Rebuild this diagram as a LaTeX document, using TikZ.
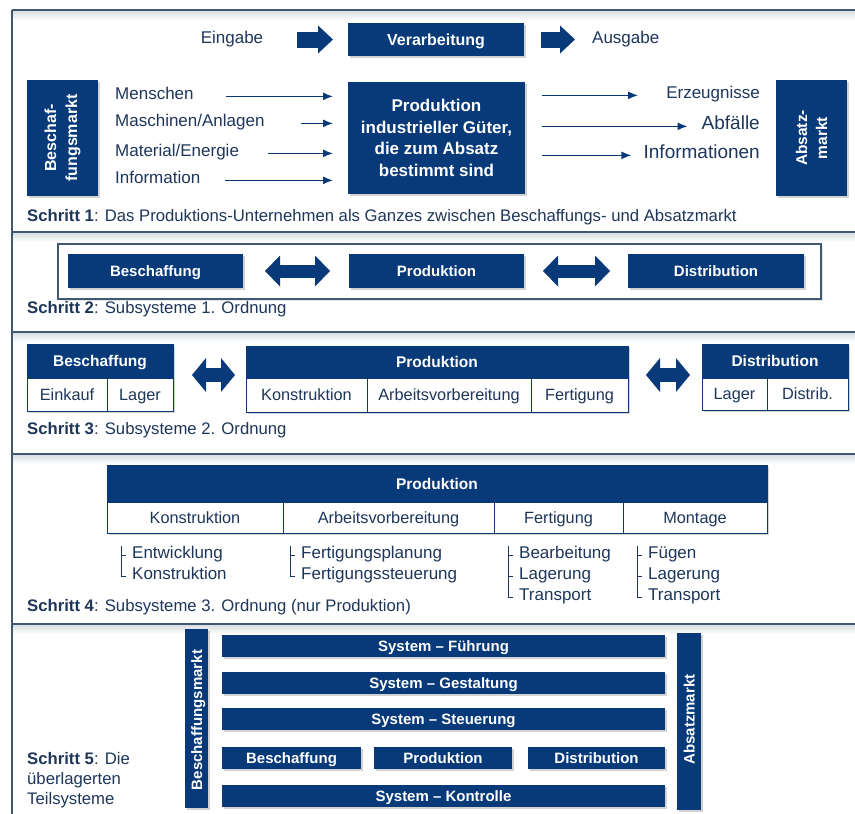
\documentclass[tikz,border=0pt]{standalone}
\usepackage{fontspec}
\setmainfont{Liberation Sans}
\usetikzlibrary{positioning,chains,arrows.meta,shadows}

\definecolor{navy}{RGB}{8,58,122}
\definecolor{inkblue}{RGB}{30,54,90}
\definecolor{rulegray}{RGB}{64,88,114}

\tikzset{
    labeltext/.style = {
        text = inkblue,
        inner sep = 0pt,
        font = \fontsize{17}{21}\selectfont,
        },
    captiontext/.style = {
        labeltext,
        anchor = base west,
        font = \fontsize{16.7}{20}\selectfont,
        },
    navybox/.style = {
        fill = navy,
        text = white,
        inner sep = 0pt,
        outer sep = 0pt,
        font = \bfseries\fontsize{16}{21.5}\selectfont,
        drop shadow = {shadow xshift=2pt, shadow yshift=-2pt, opacity=0.35},
        },
    oneline/.style = {
        text height = 11pt,
        text depth = 0pt,
        },
    headcell/.style = {
        navybox,
        oneline,
        draw = navy,
        anchor = north west,
        font = \bfseries\fontsize{15.5}{18}\selectfont,
        },
    tablecell/.style = {
        draw = navy,
        line width = 0.8pt,
        fill = white,
        text = inkblue,
        inner sep = 0pt,
        outer sep = 0pt,
        oneline,
        text height = 11.7pt,
        font = \fontsize{16.3}{20}\selectfont,
        drop shadow = {shadow xshift=2pt, shadow yshift=-2pt, opacity=0.35},
        on chain,
        },
    systembar/.style = {
        navybox,
        oneline,
        minimum height = 22pt,
        anchor = north west,
        font = \bfseries\fontsize{15}{18}\selectfont,
        },
    fat arrow/.style = {
        navy,
        line width = 16pt,
        -{Triangle[length=15pt,width=28pt,line width=0pt]},
        },
    twin arrow/.style = {
        navy,
        line width = 13pt,
        {Triangle[length=15pt,width=31pt,line width=0pt]}-{Triangle[length=15pt,width=31pt,line width=0pt]},
        },
    flow arrow/.style = {
        navy,
        line width = 1.4pt,
        -{Latex[length=10pt,width=8pt]},
        },
    list line/.style = {
        draw = inkblue,
        line width = 0.8pt,
        },
    frame line/.style = {
        draw = rulegray,
        line width = 1.6pt,
        },
}

\begin{document}
\begin{tikzpicture}[x=1pt, y=-1pt]
    \useasboundingbox (0,0) rectangle (855,814);
    \fill[white] (0,0) rectangle (855,814);

    % faint bands under the section lines
    \foreach \y in {10,232,332,454,624} {
        \shade[top color=rulegray!22, bottom color=white] (12,\y) rectangle (855,\y+10);
    }

    % --- Schritt 1
    \node[labeltext, anchor=base] (eingabe) at (232,43) {Eingabe};
    \node[navybox, oneline, minimum width=176pt, minimum height=33pt] (verarb) at (436,39.5) {Verarbeitung};
    \node[labeltext, anchor=base west] (ausgabe) at (592,43) {Ausgabe};
    \draw[fat arrow, shorten <=34pt, shorten >=15pt] (verarb.west -| eingabe.east) -- (verarb.west);
    \draw[fat arrow, shorten <=17pt, shorten >=17pt] (verarb.east) -- (verarb.east -| ausgabe.west);

    \node[navybox, minimum width=71pt, minimum height=116pt] (bmarkt) at (62.5,138) {};
    \node[rotate=90, text=white, align=center, font=\bfseries\fontsize{16}{21}\selectfont] at (bmarkt.center) {Beschaf-\\fungsmarkt};
    \node[navybox, minimum width=71pt, minimum height=116pt] (amarkt) at (811.5,138) {};
    \node[rotate=90, text=white, align=center, font=\bfseries\fontsize{15.5}{20}\selectfont] at (amarkt.center) {Absatz-\\markt};

    \node[navybox, minimum width=177pt, minimum height=112pt, align=center,
          font=\bfseries\fontsize{17}{21.7}\selectfont] (prod) at (436.5,138)
          {Produktion\\industrieller Güter,\\die zum Absatz\\bestimmt sind};

    \node[labeltext, anchor=base west] (menschen) at (115,99) {Menschen};
    \node[labeltext, anchor=base west] (maschinen) at (115,126) {Maschinen/Anlagen};
    \node[labeltext, anchor=base west] (material) at (115,156) {Material/Energie};
    \node[labeltext, anchor=base west] (information) at (115,183) {Information};
    \draw[flow arrow, shorten <=32pt, shorten >=15pt] (menschen.mid east) -- (menschen.mid east -| prod.west);
    \draw[flow arrow, shorten <=36pt, shorten >=15pt] (maschinen.mid east) -- (maschinen.mid east -| prod.west);
    \draw[flow arrow, shorten <=29pt, shorten >=15pt] (material.mid east) -- (material.mid east -| prod.west);
    \draw[flow arrow, shorten <=25pt, shorten >=15pt] (information.mid east) -- (information.mid east -| prod.west);

    \node[labeltext, anchor=base east] (erzeugnisse) at (760,98) {Erzeugnisse};
    \node[labeltext, anchor=base east, font=\fontsize{19}{22}\selectfont] (abfaelle) at (760,129) {Abfälle};
    \node[labeltext, anchor=base east, font=\fontsize{19}{22}\selectfont] (informationen) at (760,158) {Informationen};
    \draw[flow arrow, shorten <=17pt, shorten >=28pt] (erzeugnisse.mid west -| prod.east) -- (erzeugnisse.mid west);
    \draw[flow arrow, shorten <=17pt, shorten >=14pt] (abfaelle.mid west -| prod.east) -- (abfaelle.mid west);
    \draw[flow arrow, shorten <=17pt, shorten >=12pt] (informationen.mid west -| prod.east) -- (informationen.mid west);

    \node[captiontext] (schritt1) at (27,221) {\textbf{Schritt 1}: Das Produktions-Unternehmen als Ganzes zwischen Beschaffungs- und Absatzmarkt};

    % --- Schritt 2
    \node[draw=rulegray, line width=1.2pt, fill=white, minimum width=763pt, minimum height=55pt,
          drop shadow={shadow xshift=2pt, shadow yshift=-2pt, opacity=0.2}] (rahmen2) at (439.5,271.5) {};
    \node[navybox, oneline, minimum width=175pt, minimum height=34pt, font=\bfseries\fontsize{15}{18}\selectfont] (beschaffung2) at (155.5,271) {Beschaffung};
    \node[navybox, oneline, minimum width=175pt, minimum height=34pt, font=\bfseries\fontsize{15}{18}\selectfont] (produktion2) at (436.5,271) {Produktion};
    \node[navybox, oneline, minimum width=176pt, minimum height=34pt, font=\bfseries\fontsize{15}{18}\selectfont] (distribution2) at (716,271) {Distribution};
    \draw[twin arrow, shorten <=22pt, shorten >=19pt] (beschaffung2) -- (produktion2);
    \draw[twin arrow, shorten <=19pt, shorten >=18pt] (produktion2) -- (distribution2);

    \node[captiontext] (schritt2) at (27,313) {\textbf{Schritt 2}: Subsysteme 1. Ordnung};

    % --- Schritt 3
    \node[headcell, minimum width=146pt, minimum height=34pt] (beschaffung3) at (27,344) {Beschaffung};
    \begin{scope}[start chain=going right, node distance=0pt]
        \node[tablecell, minimum width=80pt, minimum height=33pt, anchor=north west] (einkauf3) at (beschaffung3.south west) {Einkauf};
        \node[tablecell, minimum width=66pt, minimum height=33pt] (lager3) {Lager};
    \end{scope}

    \node[headcell, minimum width=382pt, minimum height=32pt] (produktion3) at (246,346) {Produktion};
    \begin{scope}[start chain=going right, node distance=0pt]
        \node[tablecell, minimum width=121pt, minimum height=34pt, anchor=north west] (konstruktion3) at (produktion3.south west) {Konstruktion};
        \node[tablecell, minimum width=164pt, minimum height=34pt] (arbeitsvorb3) {Arbeitsvorbereitung};
        \node[tablecell, minimum width=97pt, minimum height=34pt] (fertigung3) {Fertigung};
    \end{scope}

    \node[headcell, minimum width=146pt, minimum height=34pt] (distribution3) at (702,344) {Distribution};
    \begin{scope}[start chain=going right, node distance=0pt]
        \node[tablecell, minimum width=65pt, minimum height=32pt, anchor=north west] (lagerd3) at (distribution3.south west) {Lager};
        \node[tablecell, minimum width=81pt, minimum height=32pt] (distrib3) {Distrib.};
    \end{scope}

    \draw[twin arrow, line width=14pt, {Triangle[length=14pt,width=34pt,line width=0pt]}-{Triangle[length=14pt,width=34pt,line width=0pt]},
          shorten <=19pt, shorten >=11pt] ([yshift=3pt]beschaffung3.south east) -- ([yshift=3pt]beschaffung3.south east -| produktion3.west);
    \draw[twin arrow, line width=14pt, {Triangle[length=14pt,width=34pt,line width=0pt]}-{Triangle[length=14pt,width=34pt,line width=0pt]},
          shorten <=18pt, shorten >=12pt] ([yshift=3pt]produktion3.south east) -- ([yshift=3pt]produktion3.south east -| distribution3.west);

    \node[captiontext] (schritt3) at (27,434) {\textbf{Schritt 3}: Subsysteme 2. Ordnung};

    % --- Schritt 4
    \node[headcell, minimum width=660pt, minimum height=37pt] (produktion4) at (107,465) {Produktion};
    \begin{scope}[start chain=going right, node distance=0pt]
        \node[tablecell, minimum width=176pt, minimum height=31pt, anchor=north west] (konstruktion4) at (produktion4.south west) {Konstruktion};
        \node[tablecell, minimum width=211pt, minimum height=31pt] (arbeitsvorb4) {Arbeitsvorbereitung};
        \node[tablecell, minimum width=129pt, minimum height=31pt] (fertigung4) {Fertigung};
        \node[tablecell, minimum width=144pt, minimum height=31pt] (montage4) {Montage};
    \end{scope}

    \node[labeltext, anchor=base west] (entwicklung) at (132,558) {Entwicklung};
    \node[labeltext, anchor=base west] (konstruktion) at (132,579) {Konstruktion};
    \node[labeltext, anchor=base west] (fplanung) at (301,558) {Fertigungsplanung};
    \node[labeltext, anchor=base west] (fsteuerung) at (301,579) {Fertigungssteuerung};
    \node[labeltext, anchor=base west] (bearbeitung) at (519,558) {Bearbeitung};
    \node[labeltext, anchor=base west] (lagerungf) at (519,579) {Lagerung};
    \node[labeltext, anchor=base west] (transportf) at (519,600) {Transport};
    \node[labeltext, anchor=base west] (fuegen) at (648,558) {Fügen};
    \node[labeltext, anchor=base west] (lagerungm) at (648,579) {Lagerung};
    \node[labeltext, anchor=base west] (transportm) at (648,600) {Transport};

    \draw[list line] ([xshift=-11pt]entwicklung.mid west) ++(0,-9) |- ([xshift=-6pt]konstruktion.mid west);
    \draw[list line] ([xshift=-11pt]entwicklung.mid west) -- ([xshift=-6pt]entwicklung.mid west);
    \draw[list line] ([xshift=-11pt]fplanung.mid west) ++(0,-9) |- ([xshift=-6pt]fsteuerung.mid west);
    \draw[list line] ([xshift=-11pt]fplanung.mid west) -- ([xshift=-6pt]fplanung.mid west);
    \draw[list line] ([xshift=-11pt]bearbeitung.mid west) ++(0,-9) |- ([xshift=-6pt]transportf.mid west);
    \draw[list line] ([xshift=-11pt]bearbeitung.mid west) -- ([xshift=-6pt]bearbeitung.mid west);
    \draw[list line] ([xshift=-11pt]lagerungf.mid west) -- ([xshift=-6pt]lagerungf.mid west);
    \draw[list line] ([xshift=-11pt]fuegen.mid west) ++(0,-9) |- ([xshift=-6pt]transportm.mid west);
    \draw[list line] ([xshift=-11pt]fuegen.mid west) -- ([xshift=-6pt]fuegen.mid west);
    \draw[list line] ([xshift=-11pt]lagerungm.mid west) -- ([xshift=-6pt]lagerungm.mid west);

    \node[captiontext] (schritt4) at (27,611) {\textbf{Schritt 4}: Subsysteme 3. Ordnung (nur Produktion)};

    % --- Schritt 5
    \node[navybox, minimum width=23pt, minimum height=179pt] (bmarkt5) at (196.5,718.5) {};
    \node[rotate=90, text=white, oneline, inner sep=0pt, font=\bfseries\fontsize{15}{18}\selectfont] at ([yshift=-1.5pt]bmarkt5.center) {Beschaffungsmarkt};
    \node[navybox, minimum width=24pt, minimum height=177pt] (amarkt5) at (689,721.5) {};
    \node[rotate=90, text=white, oneline, inner sep=0pt, font=\bfseries\fontsize{15}{18}\selectfont] at ([yshift=2pt]amarkt5.center) {Absatzmarkt};

    \node[systembar, minimum width=443pt] (fuehrung) at (222,635) {System – Führung};
    \node[systembar, minimum width=443pt, below=15pt of fuehrung] (gestaltung) {System – Gestaltung};
    \node[systembar, minimum width=443pt, below=14pt of gestaltung] (steuerung) {System – Steuerung};
    \node[systembar, minimum width=139pt] (beschaffung5) at (222,747) {Beschaffung};
    \node[systembar, minimum width=138pt] (produktion5) at (374,747) {Produktion};
    \node[systembar, minimum width=137pt] (distribution5) at (528,747) {Distribution};
    \node[systembar, minimum width=443pt] (kontrolle) at (222,785) {System – Kontrolle};

    \node[captiontext, anchor=north west, align=left, font=\fontsize{16.7}{20}\selectfont] (schritt5) at (27,752.5)
        {\textbf{Schritt 5}: Die\\überlagerten\\Teilsysteme};

    % frame
    \foreach \y in {10,232,332,454,624} {
        \draw[frame line] (12,\y) -- (855,\y);
    }
    \draw[frame line] (12,10) -- (12,814);
\end{tikzpicture}
\end{document}
